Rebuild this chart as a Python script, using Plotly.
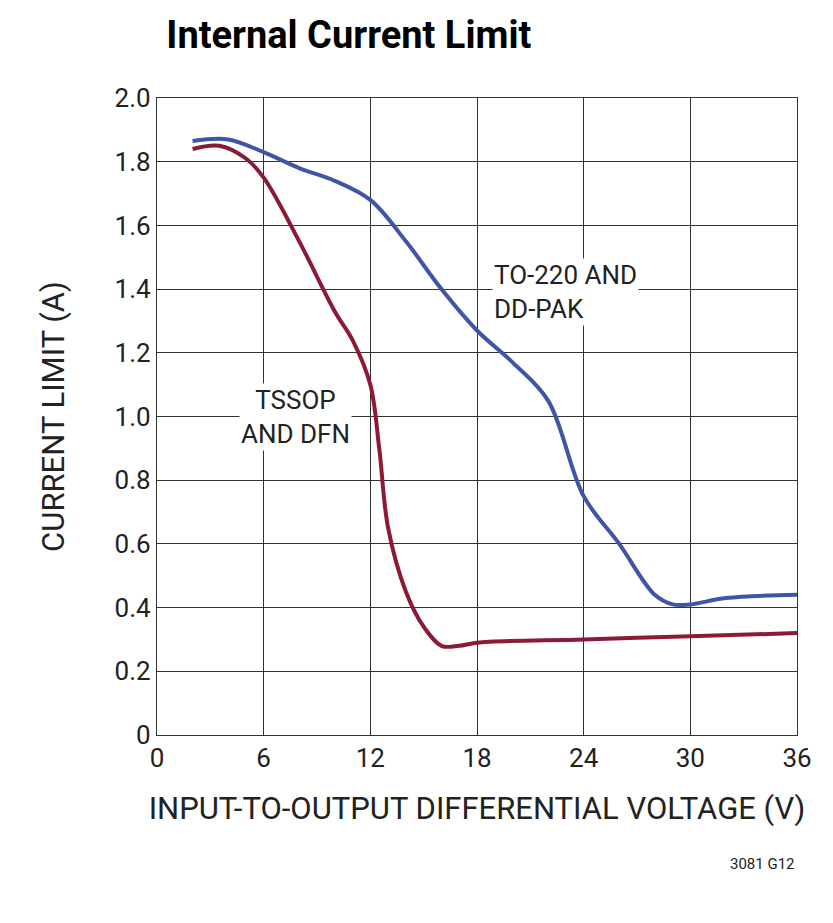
import plotly.graph_objects as go

# TO-220 and DD-PAK
blue_x = [2, 4, 6, 8, 10, 12, 14, 16, 18, 20, 22, 24, 26, 28, 29, 30, 32, 36]
blue_y = [1.865, 1.87, 1.83, 1.78, 1.74, 1.68, 1.55, 1.40, 1.27, 1.17, 1.05, 0.75, 0.60, 0.44, 0.41, 0.41, 0.43, 0.44]

# TSSOP and DFN
red_x = [2, 3.5, 5, 6, 8, 10, 11, 12, 12.5, 13, 14, 15, 16, 17, 18, 24, 30, 36]
red_y = [1.84, 1.85, 1.81, 1.75, 1.55, 1.33, 1.24, 1.10, 0.90, 0.65, 0.45, 0.34, 0.28, 0.28, 0.29, 0.30, 0.31, 0.32]

font = "Liberation Sans Narrow, Roboto, Arial"

fig = go.Figure()
fig.add_trace(go.Scatter(x=blue_x, y=blue_y, mode="lines",
                         line=dict(color="#3f55a5", width=4, shape="spline")))
fig.add_trace(go.Scatter(x=red_x, y=red_y, mode="lines",
                         line=dict(color="#8b1a35", width=4, shape="spline")))

fig.add_annotation(x=23, y=1.39, text="TO-220 AND<br>DD-PAK", showarrow=False,
                   align="left", xanchor="center", bgcolor="white",
                   font=dict(size=26, color="#222", family=font))
fig.add_annotation(x=7.8, y=1.0, text="TSSOP<br>AND DFN", showarrow=False,
                   align="center", bgcolor="white",
                   font=dict(size=26, color="#222", family=font))
fig.add_annotation(x=1, y=-0.22, xref="paper", yref="paper", text="3081 G12",
                   showarrow=False, xanchor="right",
                   font=dict(size=15, color="#222", family=font))

fig.update_layout(
    width=833, height=923,
    margin=dict(l=149, r=44, t=90, b=196),
    plot_bgcolor="white", paper_bgcolor="white",
    showlegend=False,
    title=dict(text="<b>Internal Current Limit</b>", x=0.19, xanchor="left", y=0.985,
               font=dict(size=38, color="black", family=font)),
    font=dict(family=font, size=26, color="#222"),
    xaxis=dict(range=[0, 36], dtick=6, showgrid=True, gridcolor="#333", gridwidth=1.3,
               showline=True, linecolor="#333", linewidth=1.3, mirror=True, zeroline=False,
               ticks="", title=dict(text="INPUT-TO-OUTPUT DIFFERENTIAL VOLTAGE (V)", standoff=24)),
    yaxis=dict(range=[0, 2.0], showgrid=True, gridcolor="#333",
               gridwidth=1.3, showline=True, linecolor="#333", linewidth=1.3, mirror=True,
               zeroline=False, ticks="", title=dict(text="CURRENT LIMIT (A)", standoff=40)),
)
fig.update_yaxes(tickvals=[0, 0.2, 0.4, 0.6, 0.8, 1.0, 1.2, 1.4, 1.6, 1.8, 2.0],
                 ticktext=["0", "0.2", "0.4", "0.6", "0.8", "1.0", "1.2", "1.4", "1.6", "1.8", "2.0"])

fig.write_html("out.html")
